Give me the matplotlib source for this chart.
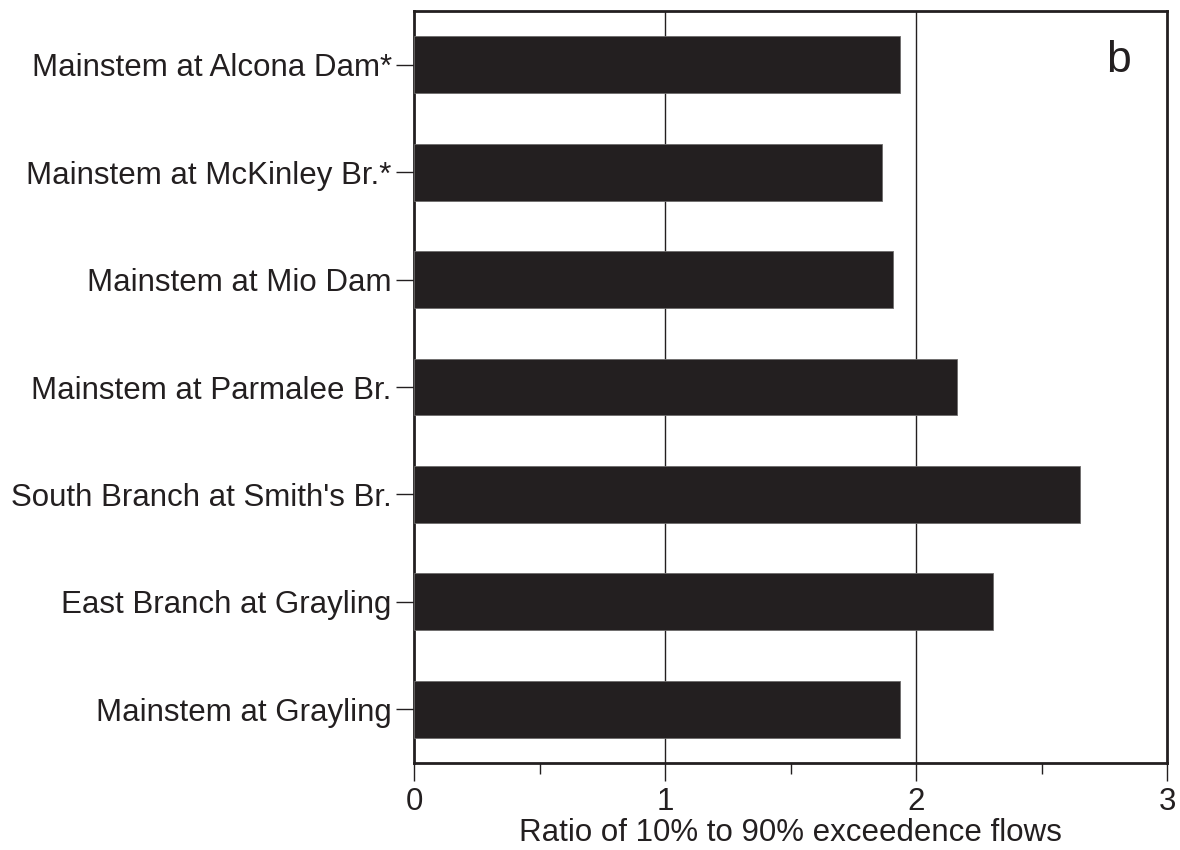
import matplotlib
matplotlib.use("Agg")
import matplotlib.pyplot as plt
from matplotlib.ticker import MultipleLocator

plt.rcParams['font.family'] = ['Liberation Sans', 'DejaVu Sans']

sites = ["Mainstem at Grayling", "East Branch at Grayling", "South Branch at Smith's Br.",
         "Mainstem at Parmalee Br.", "Mainstem at Mio Dam", "Mainstem at McKinley Br.*",
         "Mainstem at Alcona Dam*"]
ratios = [1.936, 2.306, 2.653, 2.165, 1.907, 1.866, 1.936]
xticks = [0, 1, 2, 3]
panel = "b"
xlabel = "Ratio of 10% to 90% exceedence flows"

fig = plt.figure(figsize=(11.8, 8.5), dpi=100)
ax = fig.add_axes([414/1180, 1-763/850, (1167-414)/1180, (763-11)/850])

ypos = list(range(len(sites)))
ax.barh(ypos, ratios, height=0.528, color='#231f20', edgecolor='#6d6b6b',
        linewidth=0.6, zorder=3)
for g in [1, 2]:
    ax.axvline(g, color='#231f20', lw=1.0, zorder=1)

ax.set_xlim(0, 3)
ax.set_ylim(-0.5, len(sites) - 0.5)
ax.set_xticks(xticks)
ax.set_xticklabels([str(t) for t in xticks])
ax.xaxis.set_minor_locator(MultipleLocator(0.5))
ax.set_yticks(ypos)
ax.set_yticklabels(sites)

ax.tick_params(axis='x', which='major', direction='out', length=13, width=1,
               labelsize=22.5, pad=4, color='#231f20', labelcolor='#231f20')
ax.tick_params(axis='x', which='minor', direction='out', length=8, width=1, color='#231f20')
ax.tick_params(axis='y', which='major', direction='out', length=13, width=1,
               labelsize=22.5, pad=3, color='#231f20', labelcolor='#231f20')
for s in ax.spines.values():
    s.set_linewidth(2)
    s.set_color('#231f20')

ax.set_xlabel(xlabel, fontsize=22.5, labelpad=1, color='#231f20')
ax.text(0.935, 0.934, panel, transform=ax.transAxes, fontsize=32, ha='center',
        va='center', color='#231f20')

fig.savefig("out.png", dpi=100)
